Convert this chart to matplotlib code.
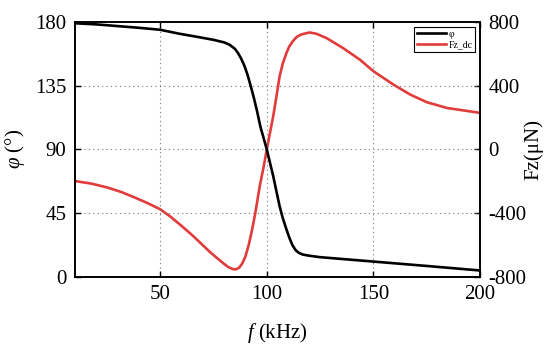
import numpy as np
import matplotlib
matplotlib.use('Agg')
import matplotlib.pyplot as plt

plt.rcParams['font.family'] = ['Liberation Serif', 'DejaVu Serif']
plt.rcParams['mathtext.fontset'] = 'custom'
plt.rcParams['mathtext.rm'] = 'Liberation Serif'
plt.rcParams['mathtext.it'] = 'Liberation Serif:italic'
plt.rcParams['axes.unicode_minus'] = False

# Фаза phi (град)
f_phi = [10, 20, 30, 40, 50, 59, 67, 75, 80, 82.6, 85, 86.5, 88, 89.5, 91, 92.5, 94, 95.5, 97,
         98.5, 100, 101.5, 103, 104.5, 106, 107.5, 109, 110.5, 112, 113.5, 115, 117,
         120, 125, 150, 175, 200]
phi = [179, 178.2, 177, 175.8, 174.4, 171.6, 169.5, 167.3, 165.5, 163.8, 161, 158, 154, 149,
       142.5, 134.5, 126, 116.5, 106, 98, 90, 80.5, 71.2, 60.5, 50, 41.5, 34.5, 28, 22.5, 19,
       17, 15.8, 15, 14, 10.9, 7.8, 4.6]

# Сила Fz_dc (мкН)
f_fz = [10, 18, 25.6, 32, 38.2, 44, 50, 55, 60, 65, 69.5, 73.5, 77.3, 80, 82, 84, 85.5, 87,
        88.5, 90, 91.5, 93, 94.6, 96.7, 98.5, 100, 101.5, 103, 104.5, 106, 107.5, 109.2, 110.5,
        112.3, 114, 116, 118.6, 120.2, 123.3, 128, 135.8, 143.7, 150, 159.4, 167.2, 175,
        184.4, 200]
fz = [-198, -215, -240, -268, -302, -336, -375, -423, -479, -537, -594, -645, -688, -718, -738,
      -750, -752, -742, -715, -670, -600, -510, -400, -229, -110, 0, 105, 208, 330, 458, 540,
      604, 645, 680, 705, 720, 729, 733, 725, 698, 635, 562, 490, 406, 344, 296, 260, 229]

fig = plt.figure(figsize=(5.5, 3.52), dpi=100)
ax = fig.add_axes([0.136, 0.213, 0.737, 0.725])
ax2 = ax.twinx()

l1, = ax.plot(f_phi, phi, color='black', lw=1.9)
l2, = ax2.plot(f_fz, fz, color='#e23b3b', lw=1.9)

ax.set_xlim(10, 200)
ax.set_ylim(0, 180)
ax.set_xticks([50, 100, 150, 200])
ax.set_yticks([0, 45, 90, 135, 180])
ax2.set_ylim(-800, 800)
ax2.set_yticks([-800, -400, 0, 400, 800])

ax.grid(True, linestyle=(0, (1, 3)), color='#777777', lw=0.8)
for a in (ax, ax2):
    a.tick_params(direction='in', labelsize=15, length=4, width=1, pad=6)
    for s in a.spines.values():
        s.set_linewidth(1.2)
ax.tick_params(top=True)
ax2.tick_params(left=False)

ax.set_xlabel(r'$\it{f}$ (kHz)', fontsize=15, labelpad=12)
ax.set_ylabel(r'$\varphi$ (°)', fontsize=15, labelpad=6)
ax2.set_ylabel('Fz(μN)', fontsize=15, labelpad=-2)

leg = ax.legend([l1, l2], ['φ', 'Fz_dc'], loc='upper right', fontsize=7,
                fancybox=False, edgecolor='black', framealpha=1,
                handlelength=3.0, borderpad=0.3, labelspacing=0.2,
                handletextpad=0.2, borderaxespad=0.5)
leg.get_frame().set_linewidth(0.8)
ax.set_zorder(ax2.get_zorder() + 1)
ax.patch.set_visible(False)

fig.savefig('out.png', dpi=100)
